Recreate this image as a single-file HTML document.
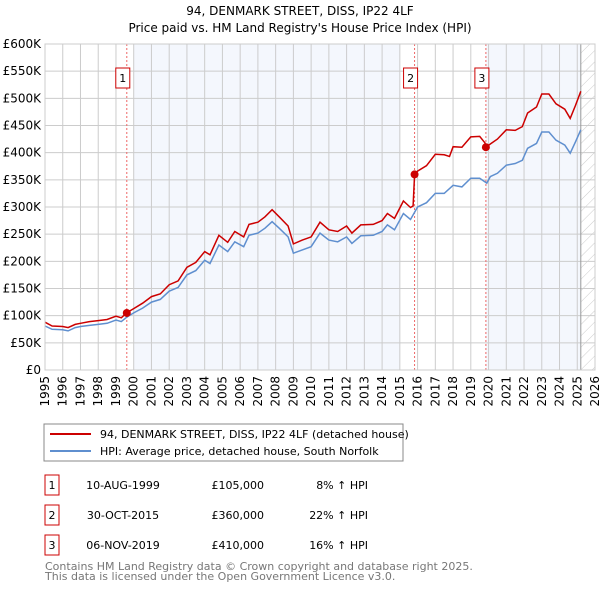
<!DOCTYPE html>
<html><head><meta charset="utf-8"><style>
body{margin:0;background:#fff;font-family:"DejaVu Sans","Liberation Sans",sans-serif;}
svg{display:block}
</style></head><body>
<svg id="c" width="600" height="590" xmlns="http://www.w3.org/2000/svg" font-family="DejaVu Sans, Liberation Sans, sans-serif">
<text x="300" y="15" text-anchor="middle" font-size="12">94, DENMARK STREET, DISS, IP22 4LF</text>
<text x="300" y="32" text-anchor="middle" font-size="12">Price paid vs. HM Land Registry's House Price Index (HPI)</text>
<defs><pattern id="hatch" width="8" height="8" patternUnits="userSpaceOnUse" patternTransform="rotate(45)"><line x1="0" y1="0" x2="0" y2="8" stroke="#ccc" stroke-width="1"/></pattern></defs>
<g id="plot"></g>
<rect x="44" y="424" width="359" height="37" fill="#fff" stroke="#888"/>
<line x1="50" y1="434" x2="91" y2="434" stroke="#cc0000" stroke-width="2"/>
<text x="100" y="438" font-size="11">94, DENMARK STREET, DISS, IP22 4LF (detached house)</text>
<line x1="50" y1="451" x2="91" y2="451" stroke="#5f8fcf" stroke-width="2"/>
<text x="100" y="455" font-size="11">HPI: Average price, detached house, South Norfolk</text>
<g font-size="11">
<rect x="45" y="475" width="14" height="20" fill="#fff" stroke="#cc0000"/><text x="52" y="489" text-anchor="middle">1</text>
<text x="123" y="489" text-anchor="middle">10-AUG-1999</text>
<text x="264" y="489" text-anchor="end">£105,000</text>
<text x="368" y="489" text-anchor="end">8% ↑ HPI</text>
<rect x="45" y="505" width="14" height="20" fill="#fff" stroke="#cc0000"/><text x="52" y="519" text-anchor="middle">2</text>
<text x="123" y="519" text-anchor="middle">30-OCT-2015</text>
<text x="264" y="519" text-anchor="end">£360,000</text>
<text x="368" y="519" text-anchor="end">22% ↑ HPI</text>
<rect x="45" y="535" width="14" height="20" fill="#fff" stroke="#cc0000"/><text x="52" y="549" text-anchor="middle">3</text>
<text x="123" y="549" text-anchor="middle">06-NOV-2019</text>
<text x="264" y="549" text-anchor="end">£410,000</text>
<text x="368" y="549" text-anchor="end">16% ↑ HPI</text>
</g>
<text x="45" y="570" font-size="11" fill="#777">Contains HM Land Registry data © Crown copyright and database right 2025.</text>
<text x="45" y="580" font-size="11" fill="#777">This data is licensed under the Open Government Licence v3.0.</text>
</svg>
<script>
const yTicks=[0,50,100,150,200,250,300,350,400,450,500,550,600];
const yTickLabels=["£0","£50K","£100K","£150K","£200K","£250K","£300K","£350K","£400K","£450K","£500K","£550K","£600K"];
const xYears=[1995,1996,1997,1998,1999,2000,2001,2002,2003,2004,2005,2006,2007,2008,2009,2010,2011,2012,2013,2014,2015,2016,2017,2018,2019,2020,2021,2022,2023,2024,2025,2026];
const hpiT=[1995.0,1995.4,1996.0,1996.3,1996.7,1997.0,1997.5,1998.0,1998.5,1999.0,1999.3,1999.6,2000.0,2000.5,2001.0,2001.5,2002.0,2002.5,2003.0,2003.5,2004.0,2004.3,2004.8,2005.3,2005.7,2006.2,2006.5,2007.0,2007.4,2007.8,2008.2,2008.7,2009.0,2009.5,2010.0,2010.5,2011.0,2011.5,2012.0,2012.3,2012.8,2013.5,2014.0,2014.3,2014.7,2015.2,2015.6,2016.0,2016.5,2017.0,2017.5,2018.0,2018.5,2019.0,2019.5,2019.9,2020.1,2020.5,2021.0,2021.5,2021.9,2022.2,2022.7,2023.0,2023.4,2023.8,2024.3,2024.6,2024.9,2025.2];
const hpiV=[81,75,74,72,78,80,82,84,86,92,89,97,105,114,125,130,145,152,175,183,202,196,230,218,236,227,248,252,261,273,261,245,215,221,227,252,239,236,245,233,247,248,255,267,258,288,277,300,308,325,325,340,337,353,353,344,356,362,377,380,386,408,417,438,438,423,414,399,420,442];
const propT=[1995.0,1995.4,1996.0,1996.3,1996.7,1997.0,1997.5,1998.0,1998.5,1999.0,1999.3,1999.6,2000.0,2000.5,2001.0,2001.5,2002.0,2002.5,2003.0,2003.5,2004.0,2004.3,2004.8,2005.3,2005.7,2006.2,2006.5,2007.0,2007.4,2007.8,2008.2,2008.7,2009.0,2009.5,2010.0,2010.5,2011.0,2011.5,2012.0,2012.3,2012.8,2013.5,2014.0,2014.3,2014.7,2015.2,2015.6,2015.75,2015.83,2016.0,2016.5,2017.0,2017.5,2017.8,2018.0,2018.5,2019.0,2019.5,2019.8,2019.85,2020.1,2020.5,2021.0,2021.5,2021.9,2022.2,2022.7,2023.0,2023.4,2023.8,2024.3,2024.6,2024.9,2025.2];
const propV=[88,81,80,78,84,86,89,91,93,99,96,105,113,123,135,140,157,164,189,198,218,212,248,235,255,245,268,272,282,295,282,265,232,239,245,272,258,255,265,252,267,268,275,288,279,311,299,302,360,366,376,397,396,393,411,410,429,430,418,410,416,425,442,441,448,473,484,508,508,490,480,463,487,513];
const saleT=[1999.61,2015.83,2019.85];
const saleV=[105,360,410];
const saleLabels=["1","2","3"];

const X0=45,X1=595,Y0=370,Y1=44;
const xs=t=>X0+(t-1995)/(2026-1995)*(X1-X0);
const ys=v=>Y0-v/600*(Y0-Y1);
const NS="http://www.w3.org/2000/svg";
const g=document.getElementById('plot');
function mk(tag,attrs){const e=document.createElementNS(NS,tag);for(const k in attrs)e.setAttribute(k,attrs[k]);g.appendChild(e);return e;}
let e;
e=mk('rect',{x:X0,y:Y1,width:X1-X0,height:Y0-Y1,fill:'#fff'});


e=mk('rect',{x:xs(2000),y:Y1,width:xs(2015)-xs(2000),height:Y0-Y1,fill:'#f4f7fd'});


e=mk('rect',{x:xs(saleT[2]),y:Y1,width:xs(2025.2)-xs(saleT[2]),height:Y0-Y1,fill:'#f4f7fd'});


e=mk('rect',{x:xs(2025.2),y:Y1,width:X1-xs(2025.2),height:Y0-Y1,fill:'url(#hatch)'});


yTicks.forEach((v,i)=>{
  e=mk('line',{x1:X0,x2:X1,y1:ys(v*1),y2:ys(v*1),stroke:'#ccc','stroke-width':1});
  
  
  e=mk('text',{x:X0-4,y:ys(v)+4,'text-anchor':'end','font-size':12});
  e.textContent=yTickLabels[i];
  
  
});
xYears.forEach(yr=>{
  e=mk('line',{x1:xs(yr),x2:xs(yr),y1:Y1,y2:Y0,stroke:'#ccc','stroke-width':1});
  
  
  const x=xs(yr)+4,y=Y0+6;
  e=mk('text',{x:x,y:y,'text-anchor':'end','font-size':12,transform:`rotate(-90 ${x} ${y})`});
  e.textContent=yr;
  
  
});
e=mk('line',{x1:xs(2025.2),x2:xs(2025.2),y1:Y1,y2:Y0,stroke:'#999','stroke-width':1});


saleT.forEach((t,i)=>{
  e=mk('line',{x1:xs(t),x2:xs(t),y1:Y1,y2:Y0,stroke:'#ee6666','stroke-width':1,'stroke-dasharray':'2,2'});
  
  
  e=mk('rect',{x:xs(t)-11,y:68,width:14,height:20,fill:'#fff',stroke:'#cc0000'});
  
  
  e=mk('text',{x:xs(t)-4,y:82,'text-anchor':'middle','font-size':11});
  e.textContent=saleLabels[i];
  
  
});
e=mk('path',{d:hpiT.map((t,i)=>(i?'L':'M')+xs(t).toFixed(1)+','+ys(hpiV[i]).toFixed(1)).join(''),fill:'none',stroke:'#5f8fcf','stroke-width':1.5});


e=mk('path',{d:propT.map((t,i)=>(i?'L':'M')+xs(t).toFixed(1)+','+ys(propV[i]).toFixed(1)).join(''),fill:'none',stroke:'#cc0000','stroke-width':1.5});


saleT.forEach((t,i)=>{
  e=mk('circle',{cx:xs(t),cy:ys(saleV[i]),r:4,fill:'#cc0000'});
  
  
});
e=mk('rect',{x:X0,y:Y1,width:X1-X0,height:Y0-Y1,fill:'none',stroke:'#ccc'});


</script>
</body></html>
